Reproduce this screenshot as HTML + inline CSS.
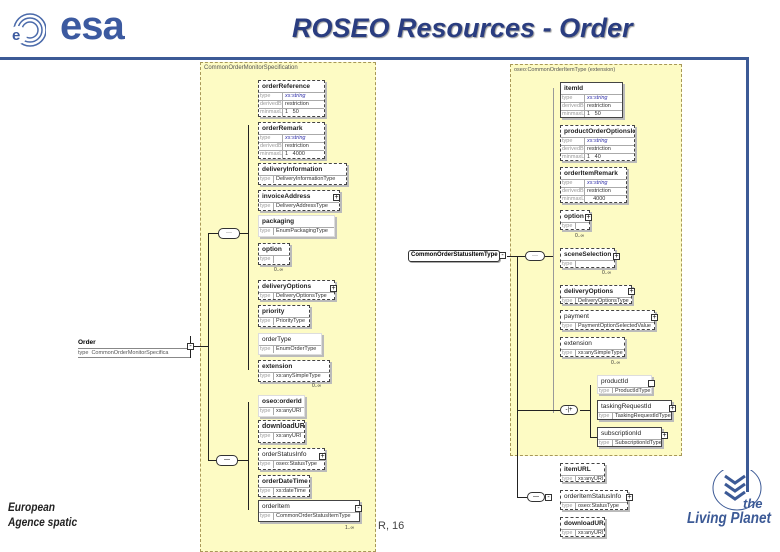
<!DOCTYPE html>
<html><head><meta charset="utf-8"><style>
*{margin:0;padding:0;box-sizing:border-box}
body{width:780px;height:540px;background:#fff;position:relative;overflow:hidden;font-family:"Liberation Sans",sans-serif}
.a{position:absolute}
.panel{position:absolute;background:#fdfbc4;border:1px dashed #a89858}
.b{position:absolute;background:#fff;border:1px solid #444;box-shadow:2px 2px 0 #bbb;font-size:5.5px;color:#333;overflow:hidden}
.d{border-style:dashed}
.b .n{font-weight:bold;font-size:6.5px;padding-left:3px;height:11px;line-height:11px;color:#222;white-space:nowrap}
.b .r{border-top:1px solid #aaa;height:8px;line-height:7px;white-space:nowrap;overflow:hidden}
.b .r span{display:inline-block;vertical-align:top;height:7px;width:15px;color:#999;padding-left:1px;border-right:1px solid #aaa;margin-right:2px;overflow:hidden}
.t .r span{width:24px}
.bl{color:#33a}
.L{position:absolute;background:#222}
.m{position:absolute;font-size:5px;color:#333}
.seq{position:absolute;border:1px solid #333;border-radius:5px;background:#fff;font-size:6px;text-align:center;line-height:8px}
.pl{position:absolute;width:7px;height:7px;border:1px solid #333;background:#fff;font-size:7px;line-height:5px;text-align:center}
</style></head><body>
<!-- header -->
<svg class="a" style="left:6px;top:8px" width="40" height="44"><g fill="none" stroke="#4a6aaa" stroke-width="1.5"><circle cx="24" cy="22" r="16"/><circle cx="24" cy="22" r="12"/><circle cx="24" cy="22" r="8"/></g><circle cx="12" cy="27" r="9" fill="#fff"/><text x="6" y="32" font-size="15" font-weight="bold" fill="#3c5aa0" font-family="Liberation Sans">e</text></svg>
<div class="a" style="left:60px;top:4px;font-size:40px;font-weight:bold;color:#3c5aa0;letter-spacing:-1px">esa</div>
<div class="a" style="left:292px;top:13px;font-size:27px;font-weight:bold;font-style:italic;color:#2a3d80;text-shadow:1px 1px 1px #999;white-space:nowrap">ROSEO Resources - Order</div>
<div class="a" style="left:0;top:57px;width:749px;height:3px;background:#3c5a96"></div>
<div class="a" style="left:746px;top:57px;width:3px;height:435px;background:#3c5a96"></div>
<div class="a" style="left:8px;top:500px;font-size:12px;font-weight:bold;font-style:italic;color:#222;line-height:15px;transform:scaleX(.85);transform-origin:left">European<br>Agence spatic</div>
<div class="a" style="left:378px;top:520px;font-size:11px;color:#444">R, 16</div>
<svg class="a" style="left:685px;top:470px" width="95" height="60"><ellipse cx="52" cy="18" rx="24" ry="22" fill="none" stroke="#3c5a96"/><g fill="none" stroke="#3c5a96" stroke-width="3"><path d="M40 6l10 7 10-7M40 14l10 7 10-7M40 22l10 7 10-7"/></g><text x="58" y="38" font-size="13" font-weight="bold" font-style="italic" fill="#3c5a96" font-family="Liberation Sans">the</text><text x="2" y="53" font-size="16" font-weight="bold" font-style="italic" fill="#3c5a96" font-family="Liberation Sans" textLength="84" lengthAdjust="spacingAndGlyphs">Living Planet</text></svg>

<!-- left panel -->
<div class="panel" style="left:200px;top:62px;width:176px;height:490px"></div>
<div class="a" style="left:204px;top:65px;font-size:6px;color:#555">CommonOrderMonitorSpecification</div>

<!-- Order -->
<div class="a" style="left:78px;top:338px;width:112px;height:20px;border-bottom:1px solid #888;font-size:6.5px;"><div style="font-weight:bold;height:10px;line-height:10px">Order</div><div style="border-top:1px solid #888;color:#555;font-size:5.5px;line-height:8px">type&nbsp; CommonOrderMonitorSpecifica</div></div>
<div class="L" style="left:190px;top:336px;width:1px;height:22px"></div>
<div class="pl" style="left:187px;top:343px">-</div>
<div class="L" style="left:194px;top:346px;width:14px;height:1px"></div>

<!-- sequence left -->
<div class="L" style="left:208px;top:233px;width:1px;height:114px"></div>
<div class="L" style="left:208px;top:233px;width:10px;height:1px"></div>
<div class="seq" style="left:218px;top:228px;width:22px;height:11px">···</div>
<div class="L" style="left:240px;top:233px;width:8px;height:1px"></div>
<div class="L" style="left:248px;top:125px;width:1px;height:245px"></div>
<div class="L" style="left:208px;top:346px;width:1px;height:115px"></div>
<div class="L" style="left:208px;top:460px;width:8px;height:1px"></div>
<div class="seq" style="left:216px;top:455px;width:22px;height:11px">—</div>
<div class="L" style="left:238px;top:460px;width:10px;height:1px"></div>
<div class="L" style="left:248px;top:402px;width:1px;height:108px"></div>

<div class="b d t" style="left:258px;top:80px;width:67px;height:37px"><div class="n">orderReference</div><div class="r"><span>type</span><i class="bl">xs:string</i></div><div class="r"><span>derivedBy</span>restriction</div><div class="r"><span>minmaxLen</span>1 &nbsp; 50</div></div>
<div class="b d t" style="left:258px;top:122px;width:67px;height:37px"><div class="n">orderRemark</div><div class="r"><span>type</span><i class="bl">xs:string</i></div><div class="r"><span>derivedBy</span>restriction</div><div class="r"><span>minmaxLen</span>1 &nbsp; 4000</div></div>
<div class="b d" style="left:258px;top:163px;width:89px;height:22px"><div class="n">deliveryInformation</div><div class="r"><span>type</span>DeliveryInformationType</div></div>
<div class="b d" style="left:258px;top:190px;width:82px;height:21px"><div class="n">invoiceAddress</div><div class="r"><span>type</span>DeliveryAddressType</div></div>
<div class="b" style="left:258px;top:215px;width:77px;height:22px;border-color:#ddd"><div class="n">packaging</div><div class="r"><span>type</span>EnumPackagingType</div></div>
<div class="b d" style="left:258px;top:243px;width:32px;height:22px"><div class="n">option</div><div class="r"><span>type</span></div></div>
<div class="m" style="left:274px;top:267px">0..∞</div>
<div class="b d" style="left:258px;top:280px;width:77px;height:20px"><div class="n">deliveryOptions</div><div class="r"><span>type</span>DeliveryOptionsType</div></div>
<div class="b d" style="left:258px;top:305px;width:52px;height:22px"><div class="n">priority</div><div class="r"><span>type</span>PriorityType</div></div>
<div class="b" style="left:258px;top:333px;width:64px;height:22px;border-color:#ddd"><div class="n" style="font-weight:normal">orderType</div><div class="r"><span>type</span>EnumOrderType</div></div>
<div class="b d" style="left:258px;top:360px;width:72px;height:22px"><div class="n">extension</div><div class="r"><span>type</span>xs:anySimpleType</div></div>
<div class="m" style="left:312px;top:383px">0..∞</div>
<div class="b" style="left:258px;top:395px;width:47px;height:22px;border-color:#ddd"><div class="n">oseo:orderId</div><div class="r"><span>type</span>xs:anyURI</div></div>
<div class="b d" style="left:258px;top:420px;width:47px;height:23px"><div class="n" style="font-size:7px">downloadURL</div><div class="r"><span>type</span>xs:anyURI</div></div>
<div class="b d" style="left:258px;top:448px;width:67px;height:22px"><div class="n" style="font-weight:normal">orderStatusInfo</div><div class="r"><span>type</span>oseo:StatusType</div></div>
<div class="b d" style="left:258px;top:475px;width:52px;height:22px"><div class="n">orderDateTime</div><div class="r"><span>type</span>xs:dateTime</div></div>
<div class="b" style="left:258px;top:500px;width:102px;height:22px"><div class="n" style="font-weight:normal">orderItem</div><div class="r"><span>type</span>CommonOrderStatusItemType</div></div>
<div class="m" style="left:345px;top:525px">1..∞</div>
<div class="pl" style="left:333px;top:194px">+</div><div class="pl" style="left:330px;top:285px">+</div><div class="pl" style="left:319px;top:453px">+</div><div class="pl" style="left:355px;top:505px">-</div>

<!-- right -->
<div class="seq" style="left:408px;top:250px;width:92px;height:12px;border-radius:3px;font-size:6px;font-weight:bold;text-align:left;padding-left:2px;box-shadow:1px 1px 0 #aaa;white-space:nowrap">CommonOrderStatusItemType</div>
<div class="pl" style="left:499px;top:252px">-</div>
<div class="L" style="left:517px;top:256px;width:1px;height:242px"></div>
<div class="panel" style="left:510px;top:64px;width:172px;height:392px"></div>
<div class="a" style="left:514px;top:67px;font-size:5.5px;color:#555">oseo:CommonOrderItemType (extension)</div>
<div class="L" style="left:517px;top:256px;width:1px;height:200px"></div>
<div class="L" style="left:507px;top:256px;width:18px;height:1px"></div>
<div class="seq" style="left:525px;top:251px;width:20px;height:10px">···</div>
<div class="L" style="left:545px;top:256px;width:8px;height:1px"></div>
<div class="a" style="left:553px;top:88px;width:1px;height:325px;background:#999"></div>
<div class="L" style="left:517px;top:410px;width:43px;height:1px"></div>
<div class="seq" style="left:560px;top:405px;width:18px;height:10px">-|+</div>
<div class="L" style="left:580px;top:410px;width:10px;height:1px"></div>
<div class="L" style="left:590px;top:385px;width:1px;height:52px"></div>
<div class="L" style="left:590px;top:437px;width:7px;height:1px"></div>

<div class="b t" style="left:560px;top:82px;width:63px;height:36px"><div class="n">itemId</div><div class="r"><span>type</span><i class="bl">xs:string</i></div><div class="r"><span>derivedBy</span>restriction</div><div class="r"><span>minmaxLen</span>1 &nbsp; 50</div></div>
<div class="b d t" style="left:560px;top:125px;width:75px;height:36px"><div class="n">productOrderOptionsId</div><div class="r"><span>type</span><i class="bl">xs:string</i></div><div class="r"><span>derivedBy</span>restriction</div><div class="r"><span>minmaxLen</span>1 &nbsp; 40</div></div>
<div class="b d t" style="left:560px;top:167px;width:67px;height:36px"><div class="n">orderItemRemark</div><div class="r"><span>type</span><i class="bl">xs:string</i></div><div class="r"><span>derivedBy</span>restriction</div><div class="r"><span>minmaxLen</span>&nbsp; &nbsp; 4000</div></div>
<div class="b d" style="left:560px;top:210px;width:30px;height:20px"><div class="n">option</div><div class="r"><span>type</span></div></div>
<div class="m" style="left:575px;top:233px">0..∞</div>
<div class="b d" style="left:560px;top:248px;width:55px;height:20px"><div class="n">sceneSelection</div><div class="r"><span>type</span></div></div>
<div class="m" style="left:602px;top:270px">0..∞</div>
<div class="b d" style="left:560px;top:285px;width:72px;height:19px"><div class="n">deliveryOptions</div><div class="r"><span>type</span>DeliveryOptionsType</div></div>
<div class="b d" style="left:560px;top:310px;width:95px;height:20px"><div class="n" style="font-weight:normal">payment</div><div class="r"><span>type</span>PaymentOptionSelectedValue</div></div>
<div class="b d" style="left:560px;top:337px;width:65px;height:20px"><div class="n" style="font-weight:normal">extension</div><div class="r"><span>type</span>xs:anySimpleType</div></div>
<div class="m" style="left:611px;top:360px">0..∞</div>
<div class="b" style="left:597px;top:375px;width:55px;height:19px;border-color:#ddd"><div class="n" style="font-weight:normal">productId</div><div class="r"><span>type</span>ProductIdType</div></div>
<div class="b" style="left:597px;top:400px;width:75px;height:20px"><div class="n" style="font-weight:normal">taskingRequestId</div><div class="r"><span>type</span>TaskingRequestIdType</div></div>
<div class="b" style="left:597px;top:427px;width:65px;height:20px"><div class="n" style="font-weight:normal">subscriptionId</div><div class="r"><span>type</span>SubscriptionIdType</div></div>
<div class="pl" style="left:613px;top:253px">+</div><div class="pl" style="left:628px;top:288px">+</div><div class="pl" style="left:651px;top:314px">+</div><div class="pl" style="left:585px;top:214px">+</div>
<div class="pl" style="left:648px;top:380px"></div><div class="pl" style="left:669px;top:405px">+</div><div class="pl" style="left:661px;top:432px">+</div>

<div class="L" style="left:517px;top:497px;width:10px;height:1px"></div>
<div class="seq" style="left:527px;top:492px;width:18px;height:10px">—</div>
<div class="pl" style="left:545px;top:494px">-</div>
<div class="b d" style="left:560px;top:463px;width:45px;height:19px"><div class="n">itemURL</div><div class="r"><span>type</span>xs:anyURI</div></div>
<div class="b d" style="left:560px;top:490px;width:68px;height:20px"><div class="n" style="font-weight:normal">orderItemStatusInfo</div><div class="r"><span>type</span>oseo:StatusType</div></div>
<div class="b d" style="left:560px;top:517px;width:45px;height:20px"><div class="n">downloadURL</div><div class="r"><span>type</span>xs:anyURI</div></div>
<div class="pl" style="left:626px;top:494px">+</div>
</body></html>
